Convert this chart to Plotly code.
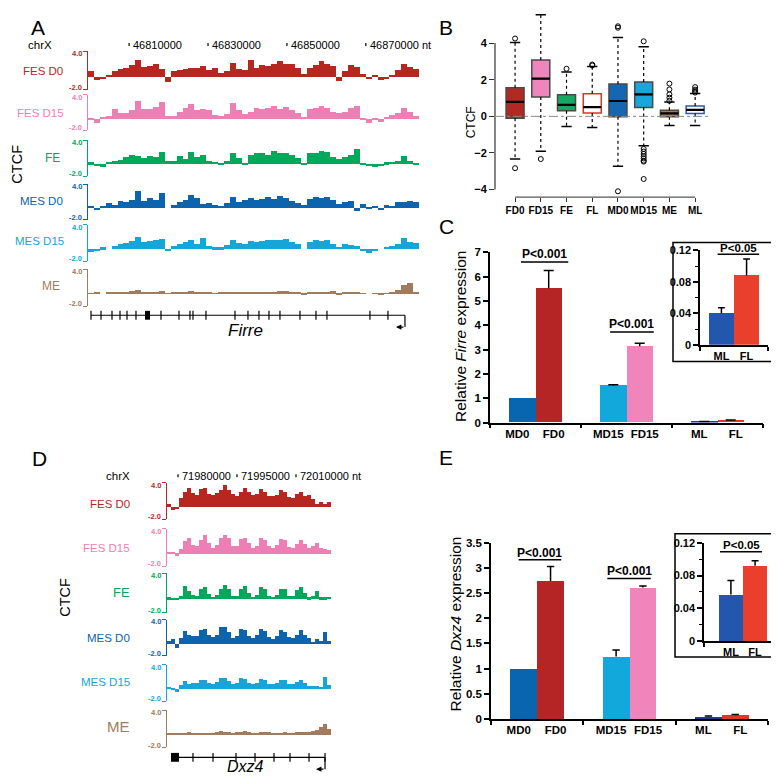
import plotly.graph_objects as go

W, H = 779, 777
FONT = "Liberation Sans, Arial, Helvetica, sans-serif"

# ----------------------------- DATA -----------------------------
track_names = ["FES D0", "FES D15", "FE", "MES D0", "MES D15", "ME"]
track_colors = ["#b7261f", "#ee7fb5", "#00a85a", "#0c63ae", "#15a5d8", "#a27b5c"]

# Panel A: Firre locus (chrX)
firre_window = [46799580, 46883470]
firre_ruler = [46810000, 46830000, 46850000, 46870000]
firre_fes_d0 = [0.9, -0.6, -0.4, 0.3, 0.8, 1.2, 1.3, 1.8, 2.6, 1.5, 1.6, 1.9, 1.2, -0.8, 0.8, 1.1, 1.2, 1.4, 1.3, 1.6,
                1.1, 1.3, 0.5, 0.9, 2.2, 1.2, 1.0, 2.6, 1.4, 1.8, 1.7, 1.9, 2.4, 2.0, 1.9, 1.4, 0.4, 1.3, 1.8, 2.5,
                2.0, 1.7, -0.7, 0.9, 1.8, 1.5, 0.4, -0.4, 0.3, -0.6, -0.4, 0.2, 1.0, 1.9, 1.5, 1.2]
firre_fes_d15 = [-0.3, -0.8, 0.2, 0.4, 1.6, 1.0, 0.9, 1.5, 3.0, 1.7, 1.6, 1.9, 2.9, 0.5, 0.5, 1.2, 1.8, 2.4, 1.5, 1.7,
                 1.5, 0.6, 0.4, 0.8, 2.6, 1.5, 0.8, 1.2, 1.8, 1.6, 1.8, 2.2, 1.7, 2.0, 1.4, 1.0, 0.3, 1.6, 1.8, 2.2,
                 1.8, 1.2, 1.0, 1.2, 1.8, 2.2, -0.2, -0.8, -0.3, -0.5, 0.3, 0.6, 1.0, 1.8, 1.2, 0.5]
firre_fe = [0.3, -0.3, -0.5, 0.4, 0.5, 0.7, 1.2, 1.6, 1.4, 1.1, 1.3, 1.2, 2.0, 0.5, 0.6, 1.4, 0.8, 2.1, 1.2, 1.6,
            0.5, 0.4, 0.2, 0.6, 1.8, 1.0, 0.2, 1.5, 1.9, 1.8, 1.6, 2.2, 1.8, 1.9, 1.5, 1.0, 0.2, 1.8, 1.9, 2.2,
            2.0, 1.2, 0.9, 1.2, 1.5, 2.6, 0.2, -0.3, -0.5, -0.2, 0.3, 0.4, 0.6, 1.3, 0.6, 0.1]
firre_mes_d0 = [0.3, -0.4, 0.3, 0.7, 0.5, 1.2, 1.0, 1.3, 2.8, 1.2, 1.6, 1.3, 2.5, 0.0, 0.5, 1.0, 1.3, 2.2, 1.6, 0.6,
                0.8, 0.4, 0.2, 0.8, 1.8, 1.0, 1.3, 1.6, 1.3, 1.4, 1.8, 1.5, 2.0, 1.7, 1.2, 0.8, 0.4, 1.4, 1.8, 1.6,
                1.8, 1.3, 0.6, 1.0, 1.1, -0.6, 0.6, -0.3, 0.2, -0.4, 0.4, 0.3, 1.0, 1.0, 1.1, 0.9]
firre_mes_d15 = [-0.5, -0.2, 0.3, 0.0, 0.6, 0.8, 1.0, 1.3, 2.1, 1.2, 1.3, 1.5, 1.7, -0.3, 0.6, 0.9, 1.2, 1.5, 0.8, 1.8,
                 0.6, 0.3, 0.3, 0.7, 1.6, 1.0, 0.8, 1.3, 1.2, 1.3, 1.5, 1.6, 1.5, 1.7, 1.2, 0.8, 0.0, 1.2, 1.5, 1.3,
                 1.6, 0.9, 0.4, 0.8, 0.7, 0.6, -0.3, -0.6, -0.2, 0.0, 0.4, 0.5, 0.9, 1.8, 1.2, 1.0]
firre_me = [0.1, 0.2, 0.0, 0.3, 0.2, 0.3, 0.2, 0.4, 0.7, 0.3, 0.3, 0.2, 0.4, 0.1, 0.2, 0.3, 0.2, 0.4, 0.3, 0.3,
            0.2, 0.1, 0.2, 0.2, 0.3, 0.3, 0.2, 0.2, 0.3, 0.2, 0.3, 0.3, 0.4, 0.5, 0.3, 0.2, -0.1, 0.2, 0.3, 0.3,
            0.3, 0.4, -0.1, 0.2, 0.2, 0.2, 0.1, 0.0, 0.1, -0.1, 0.1, 0.3, 0.6, 1.5, 1.7, 0.2]
firre_exons = [46800340, 46802874, 46805662, 46807689, 46809463, 46811743, 46818078, 46822639, 46825427,
               46826187, 46829481, 46836830, 46840124, 46842911, 46845445, 46848233, 46853301, 46857355,
               46860143, 46871039, 46875600]
firre_exon_block = [46814024, 46815291]
firre_gene_span = [46800340, 46879908]

# Panel D: Dxz4 locus (chrX)
dxz4_window = [71977200, 72018900]
dxz4_ruler = [71980000, 71995000, 72010000]
dxz4_fes_d0 = [0.5, -0.5, -0.3, 1.5, 2.6, 3.2, 2.3, 2.0, 3.0, 3.2, 2.2, 2.0, 2.3, 2.8, 3.6, 2.8, 2.2, 1.8, 2.6, 3.2,
               2.5, 2.0, 2.2, 3.0, 2.6, 1.8, 1.9, 2.1, 2.8, 2.6, 1.7, 1.5, 2.2, 2.6, 1.8, 2.0, 1.3, 0.5, 0.8, 0.6, 0.9]
dxz4_fes_d15 = [0.3, 0.2, -0.3, 0.8, 2.0, 2.5, 1.5, 1.3, 2.2, 3.0, 1.8, 1.0, 1.5, 2.6, 3.0, 2.5, 1.2, 1.2, 2.4, 2.6,
                1.8, 1.0, 1.3, 2.6, 2.2, 1.2, 1.0, 1.5, 2.4, 2.2, 1.1, 1.0, 1.6, 2.3, 1.6, 1.0, 1.2, 1.7, 1.0, 0.8, 0.7]
dxz4_fe = [0.3, 0.2, 0.1, 0.5, 2.0, 1.2, 0.6, 0.5, 1.6, 1.9, 0.8, 0.4, 0.6, 1.6, 2.2, 1.6, 0.5, 0.5, 1.6, 2.0,
           1.0, 0.4, 0.6, 1.8, 1.6, 0.5, 0.4, 0.6, 1.6, 1.5, 0.5, 0.5, 1.4, 1.8, 1.0, 0.3, 0.5, 1.3, 0.3, 0.3, 0.4]
dxz4_mes_d0 = [0.5, 0.8, -0.6, 1.0, 2.2, 1.6, 1.4, 1.4, 2.4, 2.6, 1.6, 1.2, 1.5, 2.8, 2.9, 2.0, 1.0, 1.4, 2.6, 2.4,
               1.4, 1.0, 1.6, 2.6, 2.2, 1.2, 0.9, 1.3, 2.3, 2.1, 1.2, 1.0, 1.6, 2.4, 1.6, 1.0, 0.4, 0.8, 0.5, 2.0, 0.6]
dxz4_mes_d15 = [0.4, 0.2, -0.5, 0.7, 1.3, 0.9, 1.0, 1.1, 1.6, 1.5, 1.1, 0.9, 1.2, 1.8, 1.8, 1.4, 0.8, 1.0, 1.8, 1.7,
                1.0, 0.8, 1.1, 1.7, 1.6, 0.9, 0.8, 1.0, 1.6, 1.5, 0.8, 0.8, 1.2, 1.5, 1.0, 0.6, 0.5, 0.6, 0.4, 2.0, 0.7]
dxz4_me = [0.3, 0.2, 0.3, 0.2, 0.3, 0.4, 0.3, 0.3, 0.2, 0.3, 0.2, 0.3, 0.5, 0.6, 0.5, 0.4, 0.3, 0.4, 0.5, 0.6,
           0.4, 0.3, 0.2, 0.4, 0.5, 0.4, 0.3, 0.2, 0.3, 0.4, 0.3, 0.2, 0.4, 0.5, 0.5, 0.4, 0.6, 0.8, 1.3, 1.7, 1.0]
dxz4_exons = [71983812, 71988898, 71994747, 71999578, 72004410, 72008479, 72013311, 72017379]
dxz4_exon_block = [71978217, 71980252]
dxz4_gene_span = [71978217, 72017379]

# Panel B: CTCF box plot
box_cats = ["FD0", "FD15", "FE", "FL", "MD0", "MD15", "ME", "ML"]
box_q1 = [-0.10, 1.06, 0.30, 0.18, -0.02, 0.48, -0.02, 0.16]
box_median = [0.79, 2.06, 0.63, 0.50, 0.84, 1.20, 0.16, 0.36]
box_q3 = [1.56, 3.08, 1.18, 1.24, 1.77, 1.88, 0.34, 0.57]
box_lower = [-2.33, -1.90, -0.55, -0.61, -2.72, -1.61, -0.50, -0.50]
box_upper = [4.03, 5.55, 2.42, 2.72, 4.30, 3.80, 0.79, 1.25]
box_fill = ["#b42823", "#ef86bb", "#17a862", "#ffffff", "#1467b0", "#19a6da", "#a37b55", "#ffffff"]
box_edge = ["#4a4a4a", "#4a4a4a", "#4a4a4a", "#d9362b", "#4a4a4a", "#4a4a4a", "#4a4a4a", "#2a5caa"]
outlier_cat = [0, 0, 1, 2, 3, 3, 4, 4, 4, 5, 5, 5, 5, 5, 5, 5, 5, 5, 6, 6, 6, 6, 6, 7, 7, 7, 7]
outlier_val = [4.25, -2.83, -2.33, 2.60, 2.78, 2.83, 4.84, 4.92, -4.09, 4.10, -1.78, -1.92, -2.05, -2.18,
               -2.30, -2.42, -2.47, -3.42, 0.85, 1.02, 1.20, 1.47, 1.79, 1.30, 1.38, 1.46, 1.60]

# Panels C & E: expression bar charts
expr_labels = ["MD0", "FD0", "MD15", "FD15", "ML", "FL"]
expr_colors = ["#0866b0", "#b52525", "#12a8dc", "#ef85bb", "#24388f", "#e5352a"]
firre_expr = [1.0, 5.52, 1.52, 3.14, 0.040, 0.088]
firre_err = [0.0, 0.73, 0.03, 0.12, 0.007, 0.021]
dxz4_expr = [1.0, 2.74, 1.24, 2.61, 0.050, 0.080]
dxz4_err = [0.0, 0.29, 0.13, 0.03, 0.010, 0.006]
inset_labels = ["ML", "FL"]
inset_colors = ["#2257ad", "#e8402c"]
firre_inset_expr = [0.040, 0.088]
firre_inset_err = [0.007, 0.021]
dxz4_inset_expr = [0.057, 0.092]
dxz4_inset_err = [0.017, 0.006]

# ----------------------------- FIGURE -----------------------------
fig = go.Figure()
layout = {}
shapes = []
annotations = []


def fy(py):
    return 1 - py / H


def names(n):
    s = "" if n == 1 else str(n)
    return "xaxis" + s, "yaxis" + s, "x" + s, "y" + s


def make_axes(n, x0, x1, ytop, ybot, xa, ya):
    xk, yk, xr, yr = names(n)
    base = dict(showgrid=False, zeroline=False, fixedrange=True)
    layout[xk] = dict(base, domain=[x0 / W, x1 / W], anchor=yr, **xa)
    layout[yk] = dict(base, domain=[fy(ybot), fy(ytop)], anchor=xr, **ya)
    return xr, yr


def text(t, px, py, size, color="black", xanchor="center", yanchor="middle", weight="normal",
         angle=0, xref="paper", yref="paper", x=None, y=None, xshift=0, yshift=0):
    annotations.append(dict(
        text=t, x=(px / W if x is None else x), y=(fy(py) if y is None else y),
        xref=xref, yref=yref, xanchor=xanchor, yanchor=yanchor, showarrow=False,
        textangle=angle, xshift=xshift, yshift=yshift, borderpad=0,
        font=dict(family=FONT, size=size, color=color, weight=weight)))


def line(x0, y0, x1, y1, xref, yref, color="black", width=1.0, dash="solid"):
    shapes.append(dict(type="line", x0=x0, y0=y0, x1=x1, y1=y1, xref=xref, yref=yref,
                       line=dict(color=color, width=width, dash=dash)))


def tracks_panel(first_n, window, series, x0, x1, tops, bots, lab_right, lab_y, lab_sizes,
                 ruler, ruler_y, chr_xy, exons, block, span, gene_y, gene_name, gene_xy):
    for k, vals in enumerate(series):
        col = track_colors[k]
        xr, yr = make_axes(
            first_n + k, x0, x1, tops[k], bots[k],
            dict(range=window, visible=False),
            dict(range=[-2, 4], tickvals=[4, -2], showticklabels=False, ticks="outside",
                 ticklen=4, tickwidth=1, tickcolor=col, showline=True, linecolor=col, linewidth=1))
        n = len(vals)
        bw = (window[1] - window[0]) / n
        xs = [window[0] + (i + 0.5) * bw for i in range(n)]
        fig.add_trace(go.Bar(x=xs, y=vals, width=bw, marker=dict(color=col, line=dict(width=0)),
                             xaxis=xr, yaxis=yr, hoverinfo="skip"))
        text(track_names[k], lab_right[k], lab_y[k], lab_sizes[k], color=col, xanchor="right")
        # axis end labels, nudged apart so stacked tracks stay legible
        text("4.0", x0 - 5, tops[k] + 2.5, 7.5, color=col, xanchor="right", weight="bold")
        text("-2.0", x0 - 5, bots[k] - 2.5, 7.5, color=col, xanchor="right", weight="bold")
    xr0 = names(first_n)[2]
    # ruler
    for j, pos in enumerate(ruler):
        label = str(pos) + (" nt" if j == len(ruler) - 1 else "")
        line(pos, fy(ruler_y - 1.5), pos, fy(ruler_y + 1.5), xr0, "paper", width=1.2)
        text(label, 0, ruler_y, 11, xanchor="left", xref=xr0, x=pos, xshift=3)
    text("chrX", chr_xy[0], chr_xy[1], 11.5)
    # gene model
    line(span[0], fy(gene_y), span[1], fy(gene_y), xr0, "paper", width=1.2)
    for e in exons:
        line(e, fy(gene_y - 4.5), e, fy(gene_y + 4.5), xr0, "paper", width=1.2)
    shapes.append(dict(type="rect", x0=block[0], x1=block[1], y0=fy(gene_y - 4.5), y1=fy(gene_y + 4.5),
                       xref=xr0, yref="paper", fillcolor="black", line=dict(width=0)))
    line(span[1], fy(gene_y), span[1], fy(gene_y + 12), xr0, "paper", width=1.2)
    annotations.append(dict(x=span[1], y=fy(gene_y + 12), xref=xr0, yref="paper", text="",
                            showarrow=True, arrowhead=2, arrowsize=0.9, arrowwidth=1.2,
                            ax=9, ay=0, xshift=-9, arrowcolor="black"))
    text("<i>%s</i>" % gene_name, gene_xy[0], gene_xy[1], gene_xy[2])


# Panel A
tracks_panel(1, firre_window,
             [firre_fes_d0, firre_fes_d15, firre_fe, firre_mes_d0, firre_mes_d15, firre_me],
             80, 411, [38, 82, 128, 173, 214, 259], [77, 118, 165, 209, 251, 297],
             [56, 57, 53, 56, 57, 53], [58, 101, 146, 190, 231, 276], [11.5, 11.5, 12, 11.5, 11.5, 12],
             firre_ruler, 31, (32, 31), firre_exons, firre_exon_block, firre_gene_span, 306, "Firre",
             (238, 321, 17))
text("A", 30, 14, 21)
text("CTCF", 9, 153, 14.5, angle=-90)

# Panel D
tracks_panel(7, dxz4_window,
             [dxz4_fes_d0, dxz4_fes_d15, dxz4_fe, dxz4_mes_d0, dxz4_mes_d15, dxz4_me],
             159, 323, [476, 523, 568, 615, 661, 707], [513, 561, 608, 652, 698, 745],
             [123, 123, 123, 123, 123, 123], [498, 542, 588, 634, 678, 724], [11.5, 11.5, 13, 11.5, 11.5, 15],
             dxz4_ruler, 469, (110, 469), dxz4_exons, dxz4_exon_block, dxz4_gene_span, 755, "Dxz4",
             (238, 764, 16))
text("D", 31, 451, 21)
text("CTCF", 57, 593, 14.5, angle=-90)

# Panel B: box plot
bx, by = make_axes(
    13, 487, 700, 0, 186,
    dict(range=[-0.78, 7.5], tickvals=list(range(len(box_cats))), ticktext=box_cats, ticks="outside",
         ticklen=4, tickcolor="#333", tickangle=0,
         tickfont=dict(family=FONT, size=10, color="black", weight="bold")),
    dict(range=[-4.41, 5.59], tickvals=[-4, -2, 0, 2, 4], ticks="outside", ticklen=5, tickcolor="#333",
         tickfont=dict(family=FONT, size=11, color="black", weight="bold")))
line(0, 0, len(box_cats) - 1, 0, bx, by + " domain", color="#555", width=1.2)
line(0, -4, 0, 4, bx + " domain", by, color="#333", width=1.2)
line(0, 0, 1, 0, bx + " domain", by, color="#888", width=1, dash="dashdot")
half = 0.35
for i, c in enumerate(box_cats):
    fig.add_trace(go.Box(x=[i], q1=[box_q1[i]], median=[box_median[i]], q3=[box_q3[i]],
                         lowerfence=[box_q1[i]], upperfence=[box_q3[i]], width=2 * half, whiskerwidth=0,
                         fillcolor=box_fill[i], line=dict(color=box_edge[i], width=1.5),
                         xaxis=bx, yaxis=by, hoverinfo="skip"))
wx, wy, cx, cy, mx, my = [], [], [], [], [], []
for i in range(len(box_cats)):
    wx += [i, i, None, i, i, None]
    wy += [box_q3[i], box_upper[i], None, box_q1[i], box_lower[i], None]
    cx += [i - 0.2, i + 0.2, None, i - 0.2, i + 0.2, None]
    cy += [box_upper[i], box_upper[i], None, box_lower[i], box_lower[i], None]
    mx += [i - half, i + half, None]
    my += [box_median[i], box_median[i], None]
fig.add_trace(go.Scatter(x=wx, y=wy, mode="lines", line=dict(color="black", width=1.2, dash="dot"),
                         xaxis=bx, yaxis=by, hoverinfo="skip"))
fig.add_trace(go.Scatter(x=cx, y=cy, mode="lines", line=dict(color="black", width=1.5),
                         xaxis=bx, yaxis=by, hoverinfo="skip"))
fig.add_trace(go.Scatter(x=mx, y=my, mode="lines", line=dict(color="black", width=2.2),
                         xaxis=bx, yaxis=by, hoverinfo="skip"))
fig.add_trace(go.Scatter(x=outlier_cat, y=outlier_val, mode="markers",
                         marker=dict(symbol="circle-open", size=5, color="black", line=dict(width=1)),
                         xaxis=bx, yaxis=by, hoverinfo="skip"))
text("B", 438, 14, 21)
text("CTCF", 463, 110, 12, angle=-90)


def bar_panel(n, x0, x1, ytop, ybot, ymax, dtick, ticktext, vals, errs, colors, labels, cap,
              plines, ptexts, tickfont=12, bar_w=0.29, label_off=None, pshift=8, psize=12):
    ngroups = len(vals) // 2
    centers, label_pos = [], []
    lo = bar_w / 2 if label_off is None else label_off
    for g in range(ngroups):
        centers += [g + 0.5 - bar_w / 2, g + 0.5 + bar_w / 2]
        label_pos += [g + 0.5 - lo, g + 0.5 + lo]
    xr, yr = make_axes(
        n, x0, x1, ytop, ybot,
        dict(range=[0, ngroups], tickvals=label_pos, ticktext=labels, ticks="", tickangle=0,
             showline=True, linecolor="black", linewidth=1.5,
             tickfont=dict(family=FONT, size=tickfont, color="black", weight="bold"),
             minor=dict(tickvals=list(range(ngroups + 1)), ticks="outside", ticklen=4,
                        tickwidth=1.5, tickcolor="black")),
        dict(range=[0, ymax], tickvals=[i * dtick for i in range(len(ticktext))], ticktext=ticktext,
             ticks="outside", ticklen=5, tickwidth=1.5, tickcolor="black", showline=True,
             linecolor="black", linewidth=1.5,
             tickfont=dict(family=FONT, size=tickfont, color="black", weight="bold")))
    fig.add_trace(go.Bar(x=centers, y=vals, width=bar_w, marker=dict(color=colors, line=dict(width=0)),
                         xaxis=xr, yaxis=yr, hoverinfo="skip"))
    ex, ey = [], []
    for c, v, e in zip(centers, vals, errs):
        if e > 0:
            ex += [c, c, None, c - cap, c + cap, None]
            ey += [v, v + e, None, v + e, v + e, None]
    fig.add_trace(go.Scatter(x=ex, y=ey, mode="lines", line=dict(color="black", width=1.5),
                             xaxis=xr, yaxis=yr, hoverinfo="skip"))
    for (xa, xb, yv), t in zip(plines, ptexts):
        line(xa, yv, xb, yv, xr, yr, width=1.5)
        text(t, 0, 0, psize, weight="bold", xref=xr, yref=yr, x=(xa + xb) / 2, y=yv, yshift=pshift)
    return xr, yr


# Panel C
bar_panel(14, 482, 755, 242, 415, 7, 1, [str(i) for i in range(8)], firre_expr, firre_err, expr_colors,
          expr_labels, 0.055, [(0.34, 0.86, 6.6), (1.32, 1.80, 3.72)], ["P<0.001", "P<0.001"],
          label_off=0.2, tickfont=11.5)
shapes.append(dict(type="rect", x0=665 / W, x1=773 / W, y0=fy(353), y1=fy(232), xref="paper", yref="paper",
                   line=dict(color="black", width=1.5)))
bar_panel(15, 692, 760, 240, 336, 0.12, 0.04, ["0", "0.04", "0.08", "0.12"], firre_inset_expr, firre_inset_err,
          inset_colors, inset_labels, 0.05, [(0.26, 0.87, 0.115)], ["P<0.05"], tickfont=11, bar_w=0.37,
          pshift=6, psize=11.5)
text("C", 438, 216, 21)
text("Relative <i>Firre</i> expression", 453, 327, 15.5, angle=-90)

# Panel E
bar_panel(16, 483, 760, 537, 716, 3.5, 0.5, ["0", "0.5", "1", "1.5", "2", "2.5", "3", "3.5"], dxz4_expr, dxz4_err,
          expr_colors, expr_labels, 0.04, [(0.30, 0.76, 3.16), (1.26, 1.73, 2.79)], ["P<0.001", "P<0.001"],
          label_off=0.2, tickfont=11.5, pshift=7)
shapes.append(dict(type="rect", x0=667 / W, x1=778 / W, y0=fy(653), y1=fy(528), xref="paper", yref="paper",
                   line=dict(color="black", width=1.5)))
bar_panel(17, 696, 774, 537, 637, 0.12, 0.04, ["0", "0.04", "0.08", "0.12"], dxz4_inset_expr, dxz4_inset_err,
          inset_colors, inset_labels, 0.045, [(0.205, 0.744, 0.109)], ["P<0.05"], tickfont=11, bar_w=0.31,
          pshift=7, psize=11.5)
text("E", 438, 450, 21)
text("Relative <i>Dxz4</i> expression", 447, 620, 15.5, angle=-90)

# minor y ticks on insets
for k in ("yaxis15", "yaxis17"):
    layout[k]["minor"] = dict(dtick=0.02, ticks="outside", ticklen=3, tickcolor="black", tickwidth=1)

fig.update_layout(width=W, height=H, margin=dict(l=0, r=0, t=0, b=0), paper_bgcolor="white",
                  plot_bgcolor="rgba(0,0,0,0)", showlegend=False, bargap=0, barmode="overlay",
                  shapes=shapes, annotations=annotations, **layout)
fig.write_html("out.html")
